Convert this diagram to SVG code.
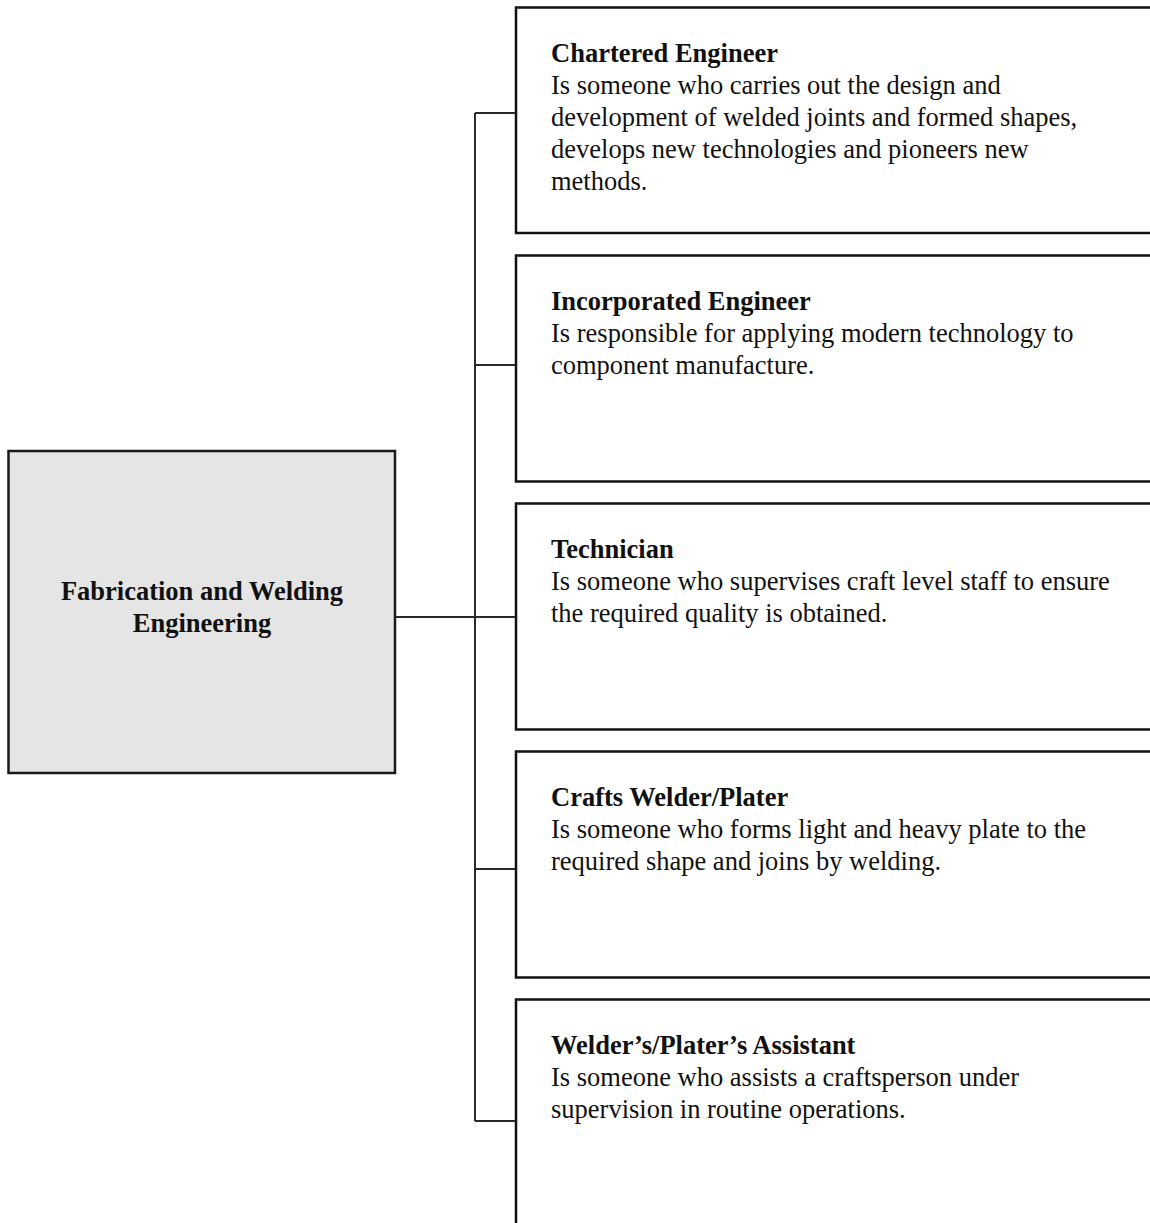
<svg xmlns="http://www.w3.org/2000/svg" width="1150" height="1223" viewBox="0 0 1150 1223">
  <style>
    .bg { fill: #ffffff; }
    .hub { fill: #e5e5e5; stroke: #1a1a1a; stroke-width: 2.5; }
    .role { fill: #ffffff; stroke: #111111; stroke-width: 2.5; }
    .wire { fill: none; stroke: #2a2a2a; stroke-width: 2; }
    text { font-family: "Liberation Serif", "Times New Roman", serif; font-size: 26.5px; fill: #111111; }
    .title { font-weight: bold; }
    .hubtext { font-weight: bold; text-anchor: middle; }
  </style>

  <rect class="bg" x="0" y="0" width="1150" height="1223"/>

  <!-- tree connectors -->
  <g id="connectors">
    <path class="wire" d="M395 617 H475"/>
    <path class="wire" d="M475 113 V1121"/>
    <path class="wire" d="M475 113 H516"/>
    <path class="wire" d="M475 365 H516"/>
    <path class="wire" d="M475 617 H516"/>
    <path class="wire" d="M475 869 H516"/>
    <path class="wire" d="M475 1121 H516"/>
  </g>

  <!-- root node -->
  <g id="node-root">
    <rect class="hub" x="8.5" y="451" width="386.5" height="322"/>
    <text class="hubtext" x="202" y="600">Fabrication and Welding</text>
    <text class="hubtext" x="202" y="632">Engineering</text>
  </g>

  <!-- role nodes (run off the right edge) -->
  <g id="node-chartered">
    <rect class="role" x="516" y="7.5" width="700" height="225.5"/>
    <text class="title" x="551" y="62">Chartered Engineer</text>
    <text x="551" y="94">Is someone who carries out the design and</text>
    <text x="551" y="126">development of welded joints and formed shapes,</text>
    <text x="551" y="158">develops new technologies and pioneers new</text>
    <text x="551" y="190">methods.</text>
  </g>

  <g id="node-incorporated">
    <rect class="role" x="516" y="255.5" width="700" height="226"/>
    <text class="title" x="551" y="310">Incorporated Engineer</text>
    <text x="551" y="342">Is responsible for applying modern technology to</text>
    <text x="551" y="374">component manufacture.</text>
  </g>

  <g id="node-technician">
    <rect class="role" x="516" y="503.5" width="700" height="226"/>
    <text class="title" x="551" y="558">Technician</text>
    <text x="551" y="590">Is someone who supervises craft level staff to ensure</text>
    <text x="551" y="622">the required quality is obtained.</text>
  </g>

  <g id="node-crafts">
    <rect class="role" x="516" y="751.5" width="700" height="226"/>
    <text class="title" x="551" y="806">Crafts Welder/Plater</text>
    <text x="551" y="838">Is someone who forms light and heavy plate to the</text>
    <text x="551" y="870">required shape and joins by welding.</text>
  </g>

  <g id="node-assistant">
    <rect class="role" x="516" y="999.5" width="700" height="300"/>
    <text class="title" x="551" y="1054">Welder’s/Plater’s Assistant</text>
    <text x="551" y="1086">Is someone who assists a craftsperson under</text>
    <text x="551" y="1118">supervision in routine operations.</text>
  </g>
</svg>
